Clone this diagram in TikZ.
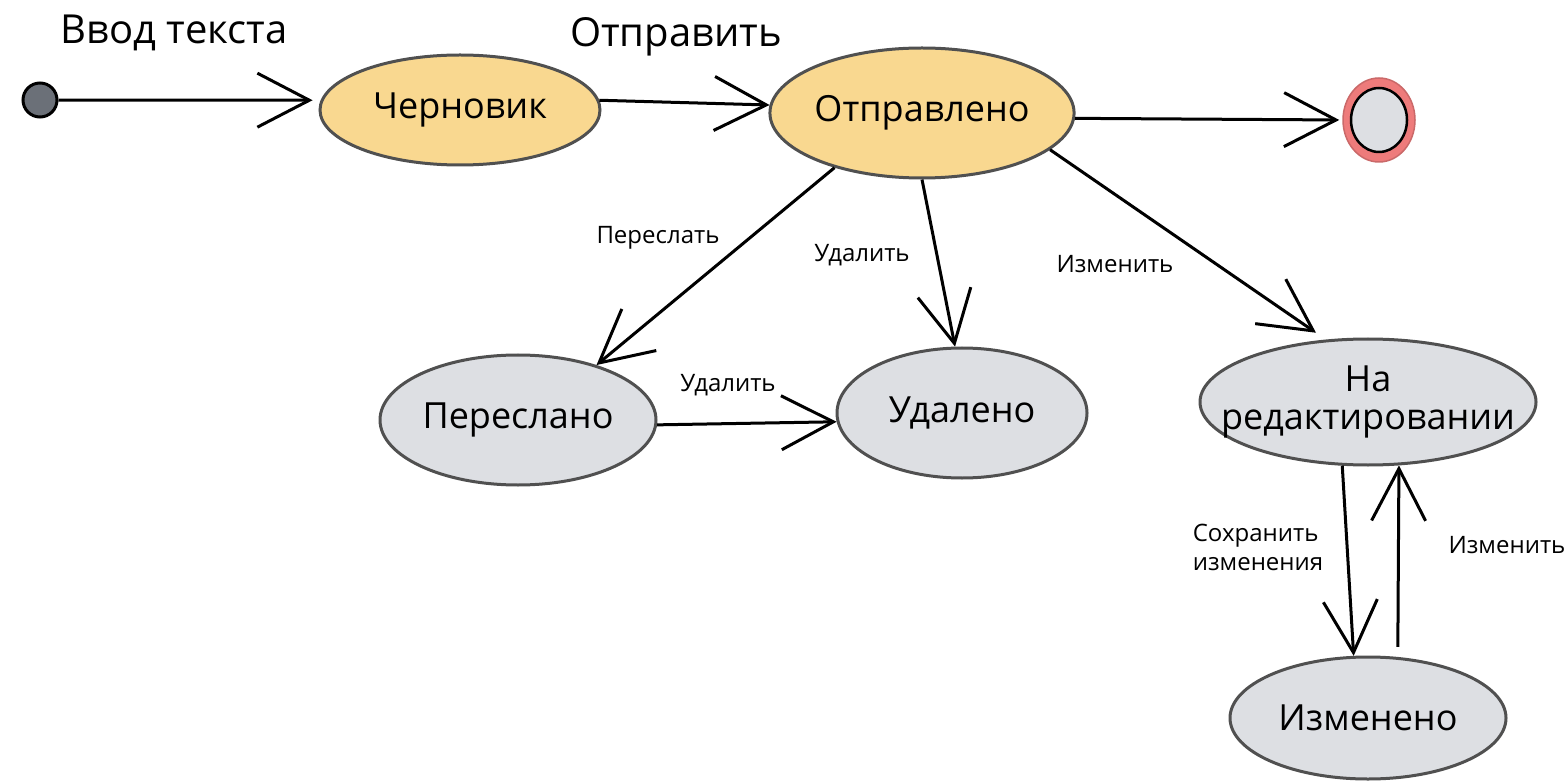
\documentclass[tikz,border=0pt]{standalone}
\usepackage{fontspec}
\setmainfont{Open Sans}
\usetikzlibrary{shapes.geometric,arrows.meta}
\definecolor{orfill}{HTML}{F9D890}
\definecolor{grfill}{HTML}{DDDFE3}
\definecolor{edgegr}{HTML}{505050}
\definecolor{redring}{HTML}{EE7B7B}
\definecolor{dotfill}{HTML}{6B7078}
\tikzset{
  state/.style={ellipse, draw=edgegr, line width=3pt, inner sep=0pt, font=\fontsize{36}{42}\selectfont},
  orst/.style={state, fill=orfill},
  grst/.style={state, fill=grfill},
  arr/.style={draw=black, line width=3pt, -{Straight Barb[length=52pt,width=54pt,line width=3pt]}},
  biglbl/.style={font=\fontsize{40}{46}\selectfont, inner sep=0pt},
  lbl/.style={font=\fontsize{24}{29}\selectfont, inner sep=0pt},
}
\begin{document}
\begin{tikzpicture}[x=1pt,y=-1pt]
\useasboundingbox (0,0) rectangle (1568,783);
% nodes
\node[circle, draw=black, line width=3pt, fill=dotfill, minimum size=34pt, inner sep=0pt] (start) at (40,100) {};
\node[orst, minimum width=280pt, minimum height=110pt] (cher) at (460,110) {Черновик};
\node[orst, minimum width=282pt, minimum height=130pt] (otpr) at (922,113) {Отправлено};
\node[ellipse, draw=redring!85!black, line width=1.5pt, fill=redring, minimum width=72pt, minimum height=84pt, inner sep=0pt] (endO) at (1379,120) {};
\node[ellipse, draw=black, line width=2.5pt, fill=grfill, minimum width=56pt, minimum height=64pt, inner sep=0pt] (endI) at (endO) {};
\node[grst, minimum width=276pt, minimum height=130pt] (pere) at (518,420) {Переслано};
\node[grst, minimum width=250pt, minimum height=130pt] (udal) at (962,413) {Удалено};
\node[grst, minimum width=336pt, minimum height=126pt] (nared) at (1368,402) {};
\node[font=\fontsize{36}{42}\selectfont, align=center, inner sep=0pt] (naredtxt) at (nared) {На\\[-4pt]редактировании};
\node[grst, minimum width=276pt, minimum height=122pt] (izm) at (1368,718) {Изменено};
% labels
\node[biglbl] (lvvod) at (174,33) {Ввод текста};
\node[biglbl] (lotpr) at (676,37) {Отправить};
\node[lbl] (lpere) at (658,238) {Переслать};
\node[lbl] (ludal1) at (862,255) {Удалить};
\node[lbl] (lizm1) at (1115,264) {Изменить};
\node[lbl] (ludal2) at (728,385) {Удалить};
\node[lbl, align=left] (lsave) at (1258,547) {Сохранить\\изменения};
\node[lbl] (lizm2) at (1507,545) {Изменить};
% connectors
\draw[arr, shorten >=8pt] (start) -- (cher.176);
\draw[arr] (cher.4) -- (otpr.177);
\draw[arr, shorten >=3pt] (otpr.-2) -- (endO.180);
\draw[arr] (otpr.-148) -- (pere.35);
\draw[arr] (otpr.-90) -- (udal.96);
\draw[arr, shorten >=12pt] (otpr.-16) -- (nared.124);
\draw[arr] (pere.-2) -- (udal.184);
\draw[arr] (nared.-112) -- (izm.103);
\draw[arr, shorten <=10pt] (izm.64) -- (nared.-64);
\end{tikzpicture}
\end{document}
